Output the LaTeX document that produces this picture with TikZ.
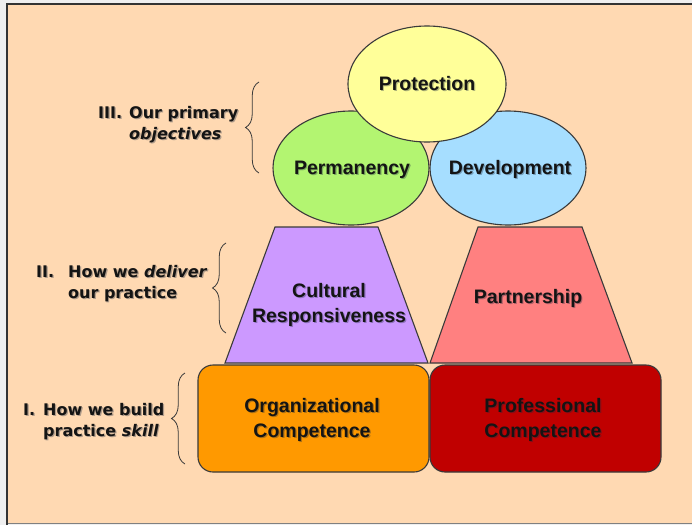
\documentclass[tikz,border=0pt]{standalone}
\usepackage{fontspec}
\setmainfont{Liberation Sans}
\newfontfamily\labfont{DejaVu Sans}
\usetikzlibrary{shapes.geometric,decorations.pathreplacing}

\definecolor{peach}{HTML}{FFD9B2}
\definecolor{framegray}{HTML}{EFEFEF}
\definecolor{edgegray}{HTML}{3A3A3A}
\definecolor{protc}{HTML}{FFFF99}
\definecolor{permc}{HTML}{B3F571}
\definecolor{devc}{HTML}{A6DEFF}
\definecolor{cultc}{HTML}{CC99FF}
\definecolor{partc}{HTML}{FF8080}
\definecolor{orgc}{HTML}{FF9900}
\definecolor{profc}{HTML}{C00000}
\definecolor{inkc}{HTML}{141414}
\definecolor{shadowc}{HTML}{1A2A40}

\begin{document}
\begin{tikzpicture}[x=1pt,y=-1pt,
  shp/.style={draw=edgegray, line width=1.1},
  ell/.style={shp, ellipse, inner sep=0},
  txt/.style={font=\fontsize{19.5}{25}\selectfont\bfseries, text=inkc, align=center, inner sep=0},
  lab/.style={font=\labfont\fontsize{16}{21.5}\selectfont\bfseries, text=inkc, inner sep=0, anchor=base west},
  ghost/.style={text=shadowc, text opacity=0.35, xshift=1.2pt, yshift=-1.2pt},
  brc/.style={draw=edgegray, line width=0.8, decorate, decoration={brace, amplitude=13.5}}]

\useasboundingbox (0,0) rectangle (692,525);
% window backdrop and panel
\fill[framegray] (0,0) rectangle (692,525);
\fill[peach] (8,5) rectangle (692,523);
\draw[line width=2, black!80] (7,525) -- (7,4) -- (692,4);
\draw[line width=1, gray] (8,523.5) -- (692,523.5);

% bottom row: competences
\node[shp, fill=orgc, rounded corners=15, minimum width=231, minimum height=107] (org) at (313.5,418.5) {};
\node[shp, fill=profc, rounded corners=15, minimum width=231, minimum height=107] (prof) at (545.5,418.5) {};

% middle row: practice delivery
\draw[shp, fill=cultc] (275,227) -- (378,227) -- (428,363) -- (225,363) -- cycle;
\draw[shp, fill=partc] (478,227) -- (582,227) -- (632,363) -- (430,363) -- cycle;

% top row: objectives
\node[ell, fill=permc, minimum width=156, minimum height=114] (perm) at (351,168) {};
\node[ell, fill=devc, minimum width=156, minimum height=114] (dev) at (508,168) {};
\node[ell, fill=protc, minimum width=158, minimum height=116] (prot) at (427,84) {};

% shape texts with their soft drop shadows
\foreach \sty/\nm in {ghost/s, /t} {
  \node[txt, \sty] (org\nm) at (312,419.5) {Organizational\\Competence};
  \node[txt, \sty] (prof\nm) at (543,419.5) {Professional\\Competence};
  \node[txt, \sty] (cult\nm) at (329,305) {Cultural\\Responsiveness};
  \node[txt, anchor=base, \sty] (part\nm) at (528,303) {Partnership};
  \node[txt, anchor=base, \sty] (perm\nm) at (352,174) {Permanency};
  \node[txt, anchor=base, \sty] (dev\nm) at (510,174) {Development};
  \node[txt, anchor=base, \sty] (prot\nm) at (427,90) {Protection};
  % level labels
  \node[lab, \sty] (labiii\nm) at (98,118) {\begin{tabular}[t]{@{}l@{}l@{}}\makebox[31pt][l]{III.} & Our primary\\ & \textit{objectives}\end{tabular}};
  \node[lab, \sty] (labii\nm) at (36,277) {\begin{tabular}[t]{@{}l@{}l@{}}\makebox[32pt][l]{II.} & How we \textit{deliver}\\ & our practice\end{tabular}};
  \node[lab, \sty] (labi\nm) at (23,415) {\begin{tabular}[t]{@{}l@{}l@{}}\makebox[20pt][l]{I.} & How we build\\ & practice \textit{skill}\end{tabular}};
}

% braces
\coordinate (b3a) at (259,173); \coordinate (b3b) at (259,82);
\coordinate (b2a) at (226,333); \coordinate (b2b) at (226,243);
\coordinate (b1a) at (185,464); \coordinate (b1b) at (185,373);
\draw[brc] (b3a) -- (b3b);
\draw[brc] (b2a) -- (b2b);
\draw[brc] (b1a) -- (b1b);
\end{tikzpicture}
\end{document}
